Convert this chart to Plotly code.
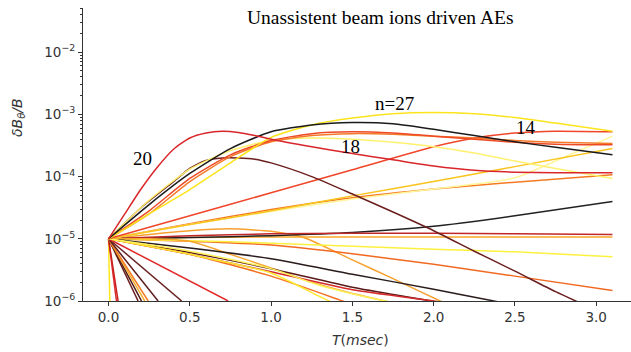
import plotly.graph_objects as go

# ---- data: time (msec) and log10(dB_theta/B) ----
T_UP = [0, 0.25, 0.5, 0.75, 1.0, 1.25, 1.5, 1.75, 2.0, 2.25, 2.5, 2.75, 3.1]
T_MID = [0, 0.5, 1.0, 1.5, 2.0, 2.5, 3.1]

t_n20 = [0, 0.1, 0.2, 0.3, 0.4, 0.5, 0.6, 0.7, 0.8, 0.9, 1.0, 1.25, 1.5, 1.75, 2.0, 2.25, 2.5, 2.75, 3.1]
lg_n20 = [-5, -4.6, -4.2, -3.85, -3.56, -3.38, -3.3, -3.27, -3.29, -3.34, -3.4, -3.52, -3.63, -3.73, -3.83, -3.9, -3.93, -3.94, -3.94]

lg_black_up = [-5, -4.45, -3.95, -3.55, -3.28, -3.17, -3.13, -3.15, -3.24, -3.34, -3.44, -3.53, -3.65]
lg_n27 = [-5, -4.6, -4.21, -3.78, -3.37, -3.17, -3.06, -2.99, -2.97, -2.99, -3.05, -3.14, -3.27]
lg_pale_up = [-5, -4.38, -3.88, -3.58, -3.42, -3.38, -3.40, -3.45, -3.52, -3.62, -3.75, -3.87, -4.03]
lg_n18a = [-5, -4.55, -4.03, -3.65, -3.42, -3.31, -3.28, -3.30, -3.35, -3.40, -3.45, -3.48, -3.49]
lg_n18b = [-5, -4.6, -4.08, -3.68, -3.44, -3.34, -3.31, -3.32, -3.35, -3.38, -3.42, -3.45, -3.47]

t_brown_up = [0, 0.2, 0.4, 0.5, 0.6, 0.7, 0.8, 0.9, 1.0, 1.25, 1.5, 1.75, 2.0, 2.25, 2.5, 2.75, 3.0]
lg_brown_up = [-5, -4.5, -4.08, -3.87, -3.74, -3.70, -3.70, -3.72, -3.78, -4.0, -4.28, -4.57, -4.87, -5.2, -5.52, -5.85, -6.15]

t_n14 = [0, 0.5, 1.0, 1.5, 2.0, 2.25, 2.5, 2.75, 3.1]
lg_n14 = [-5, -4.63, -4.26, -3.89, -3.52, -3.38, -3.30, -3.27, -3.28]

lg_gold_rise = [-5, -4.77, -4.55, -4.31, -4.08, -3.84, -3.55]
t_pale_rise = [0, 0.5, 1.0, 1.5, 2.0, 2.5, 2.75, 3.1]
lg_pale_rise = [-5, -4.77, -4.56, -4.36, -4.2, -4.02, -3.75, -3.35]
lg_orange_rise = [-5, -4.76, -4.53, -4.34, -4.20, -4.09, -3.97]

lg_dkred_flat = [-5, -4.95, -4.92, -4.91, -4.91, -4.92, -4.93]
lg_black_flat = [-5, -4.98, -4.95, -4.90, -4.80, -4.63, -4.40]
lg_gold_flat = [-5, -4.98, -4.97, -4.97, -4.97, -4.97, -4.97]
lg_yellow_decl = [-5, -5.03, -5.07, -5.12, -5.17, -5.21, -5.29]
lg_orange_decl = [-5, -5.04, -5.10, -5.24, -5.41, -5.60, -5.83]

t_hump = [0, 0.25, 0.5, 0.75, 1.0, 1.2, 1.5, 1.75, 2.04, 2.3]
lg_hump = [-5, -4.93, -4.87, -4.84, -4.88, -4.98, -5.34, -5.64, -6.0, -6.3]

t_gold_dec = [0, 0.25, 0.5, 0.75, 1.0, 1.25, 1.5, 1.7, 1.9]
lg_gold_dec = [-5, -5.0, -5.04, -5.25, -5.47, -5.7, -5.88, -6.0, -6.15]
t_black_dec = [0, 0.5, 1.0, 1.5, 2.0, 2.37, 2.6]
lg_black_dec = [-5, -5.15, -5.32, -5.57, -5.81, -6.0, -6.12]
t_brown_dec = [0, 0.5, 1.0, 1.5, 1.85, 2.1]
lg_brown_dec = [-5, -5.22, -5.48, -5.78, -5.94, -6.05]
t_red_dec = [0, 0.5, 1.0, 1.5, 2.0, 2.2]
lg_red_dec = [-5, -5.25, -5.53, -5.82, -6.0, -6.08]
t_orange_dec = [0, 0.5, 1.0, 1.44, 1.6]
lg_orange_dec = [-5, -5.25, -5.6, -6.0, -6.15]
t_yellow_dec1 = [0, 0.5, 1.0, 1.3, 1.4]
lg_yellow_dec1 = [-5, -5.25, -5.55, -5.93, -6.05]
t_yellow_dec2 = [0, 0.5, 1.0, 1.3, 1.7, 1.9]
lg_yellow_dec2 = [-5, -5.2, -5.48, -5.75, -6.0, -6.1]

# fast-damped modes: time at which each reaches 1e-6 (straight on log scale)
fast_t_end = [0.008, 0.049, 0.059, 0.182, 0.203, 0.223, 0.244, 0.305, 0.45, 0.736]
fast_colors = ["#fde820", "#e02a2a", "#c82020", "#6b1e1e", "#4a1818",
               "#f8b030", "#f47a22", "#5e1c1c", "#6b2424", "#e02a2a"]

curves = [
    (t_hump, lg_hump, "#f7a030"),
    (T_MID, lg_orange_decl, "#f26a22"),
    (T_MID, lg_yellow_decl, "#fdf040"),
    (T_MID, lg_gold_flat, "#f8a828"),
    (T_MID, lg_black_flat, "#222222"),
    (T_MID, lg_dkred_flat, "#c0282a"),
    (t_gold_dec, lg_gold_dec, "#f6a52c"),
    (t_black_dec, lg_black_dec, "#2a1c1c"),
    (t_brown_dec, lg_brown_dec, "#5a1a1a"),
    (t_red_dec, lg_red_dec, "#d42a2a"),
    (t_orange_dec, lg_orange_dec, "#f47020"),
    (t_yellow_dec1, lg_yellow_dec1, "#fde830"),
    (t_yellow_dec2, lg_yellow_dec2, "#fff25a"),
    (T_MID, lg_orange_rise, "#f47a22"),
    (t_pale_rise, lg_pale_rise, "#fff59a"),
    (T_MID, lg_gold_rise, "#f9c41e"),
    (t_n14, lg_n14, "#f0462a"),
    (t_brown_up, lg_brown_up, "#6b1e1e"),
    (T_UP, lg_pale_up, "#fff170"),
    (T_UP, lg_n18b, "#f47a2a"),
    (T_UP, lg_n18a, "#ee4a26"),
    (T_UP, lg_n27, "#fbe41c"),
    (T_UP, lg_black_up, "#1b1b1b"),
    (t_n20, lg_n20, "#d9262a"),
]

fig = go.Figure()

for te, c in zip(fast_t_end, fast_colors):
    fig.add_trace(go.Scatter(x=[0, te], y=[1e-5, 1e-6], mode="lines",
                             line=dict(color=c, width=1.5), showlegend=False,
                             hoverinfo="skip"))

for t, lg, c in curves:
    fig.add_trace(go.Scatter(x=t, y=[10 ** v for v in lg], mode="lines",
                             line=dict(color=c, width=1.5, shape="spline", smoothing=0.6),
                             showlegend=False, hoverinfo="skip"))

tickfont = dict(family="DejaVu Sans", size=13.5, color="#333333")
ytickvals = [1e-6, 1e-5, 1e-4, 1e-3, 1e-2]
yticktext = ["10<sup>−6</sup>", "10<sup>−5</sup>", "10<sup>−4</sup>", "10<sup>−3</sup>", "10<sup>−2</sup>"]
minor_vals = [k * 10 ** e for e in range(-6, -1) for k in range(2, 10)]

fig.update_layout(
    width=631, height=352,
    margin=dict(l=83, r=0, t=8, b=51),
    paper_bgcolor="white", plot_bgcolor="white",
    xaxis=dict(range=[-0.157, 3.214], showline=True, linecolor="#333333", linewidth=1,
               ticks="outside", ticklen=4, tickcolor="#333333", tickwidth=1,
               tickvals=[0, 0.5, 1.0, 1.5, 2.0, 2.5, 3.0],
               ticktext=["0.0", "0.5", "1.0", "1.5", "2.0", "2.5", "3.0"],
               tickfont=tickfont, showgrid=False, zeroline=False),
    yaxis=dict(type="log", range=[-6, -1.29], showline=True, linecolor="#333333", linewidth=1,
               ticks="outside", ticklen=4, tickcolor="#333333", tickwidth=1,
               tickvals=ytickvals, ticktext=yticktext, tickfont=tickfont,
               showgrid=False, zeroline=False,
               minor=dict(ticks="outside", ticklen=2, tickcolor="#333333", tickwidth=0.8,
                          tickvals=minor_vals, showgrid=False)),
)

serif = dict(family="Liberation Serif", size=19.5, color="black")
fig.add_annotation(text="Unassistent beam ions driven AEs", xref="paper", yref="paper",
                   x=0.542, y=0.966, xanchor="center", yanchor="middle",
                   showarrow=False, font=serif)
fig.add_annotation(text="<i>T</i>(<i>msec</i>)", xref="paper", yref="paper",
                   x=0.507, y=-0.133, xanchor="center", yanchor="middle", showarrow=False,
                   font=dict(family="DejaVu Sans", size=14, color="#333333"))
fig.add_annotation(text="<i>δB<sub>θ</sub>/B</i>", xref="paper", yref="paper",
                   x=-0.1186, y=0.6246, xanchor="center", yanchor="middle",
                   showarrow=False, textangle=-90,
                   font=dict(family="DejaVu Sans", size=14, color="#333333"))

labels = [("20", 0.208, -3.71), ("n=27", 1.762, -2.82), ("18", 1.491, -3.52), ("14", 2.565, -3.21)]
for txt, lx, ly in labels:
    fig.add_annotation(text=txt, x=lx, y=ly, xref="x", yref="y", showarrow=False,
                       xanchor="center", yanchor="middle",
                       font=dict(family="Liberation Serif", size=19, color="black"))

fig.write_html("out.html")
